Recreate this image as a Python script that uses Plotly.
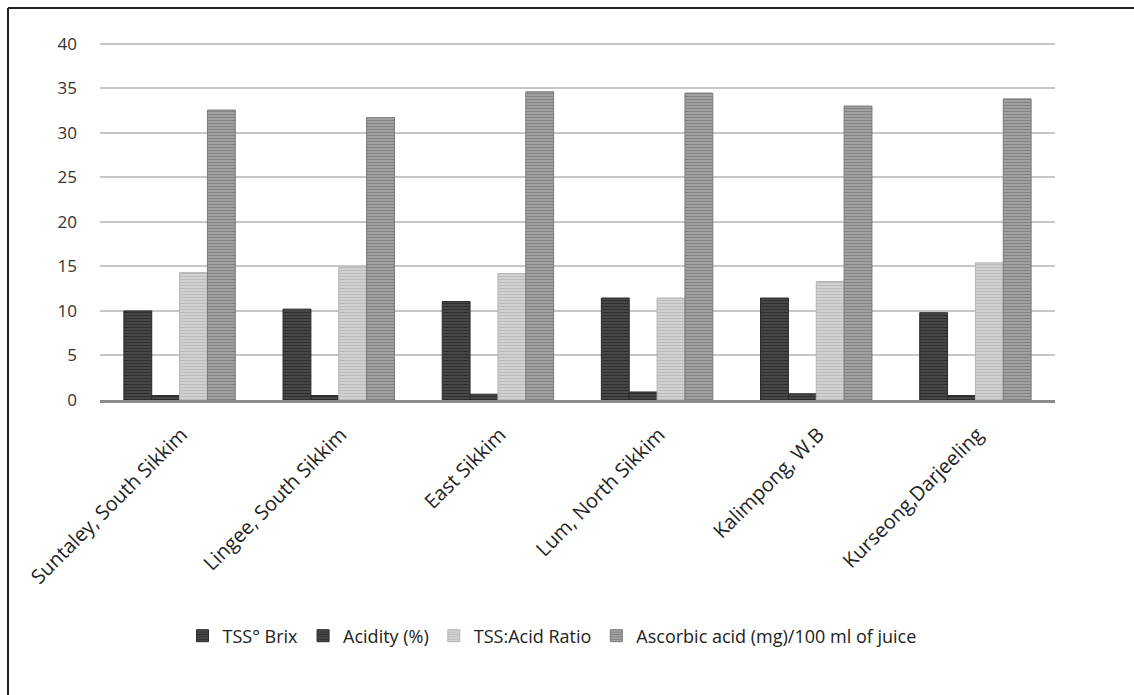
import plotly.graph_objects as go

# Sampling locations
locations = [
    "Suntaley, South Sikkim",
    "Lingee, South Sikkim",
    "East Sikkim",
    "Lum, North Sikkim",
    "Kalimpong, W.B",
    "Kurseong,Darjeeling",
]

# Juice quality parameters per location
tss_brix = [10.0, 10.2, 11.05, 11.45, 11.45, 9.8]
acidity_pct = [0.5, 0.5, 0.65, 0.9, 0.7, 0.5]
tss_acid_ratio = [14.3, 14.9, 14.2, 11.45, 13.3, 15.4]
ascorbic_acid = [32.55, 31.7, 34.6, 34.45, 33.0, 33.8]

y_ticks = [0, 5, 10, 15, 20, 25, 30, 35, 40]

series = [
    ("TSS° Brix", tss_brix, "#4a4a4a", "#141414", "#2a2a2a"),
    ("Acidity (%)", acidity_pct, "#4a4a4a", "#141414", "#2a2a2a"),
    ("TSS:Acid Ratio", tss_acid_ratio, "#d4d4d4", "#a2a2a2", "#b4b4b4"),
    ("Ascorbic acid (mg)/100 ml of juice", ascorbic_acid, "#a4a4a4", "#626262", "#7a7a7a"),
]

fig = go.Figure()
for name, vals, bg, fg, edge in series:
    fig.add_trace(go.Bar(
        x=locations,
        y=vals,
        name=name,
        marker=dict(
            color=bg,
            line=dict(color=edge, width=1),
            pattern=dict(shape="-", bgcolor=bg, fgcolor=fg, size=3, solidity=0.4,
                         fillmode="overlay"),
        ),
    ))

W, H = 1134, 695
ml, mr, mt, mb = 100, 79, 41, 295
pw, ph = W - ml - mr, H - mt - mb


def px_x(p):
    return (p - ml) / pw


def px_y(p):
    return (H - mb - p) / ph


fig.update_layout(
    width=W,
    height=H,
    margin=dict(l=ml, r=mr, t=mt, b=mb, pad=0),
    paper_bgcolor="white",
    plot_bgcolor="white",
    barmode="group",
    bargap=0.3,
    bargroupgap=0,
    font=dict(family="Open Sans, Liberation Sans, sans-serif", color="#333333"),
    showlegend=True,
    legend=dict(
        orientation="h",
        x=px_x(552),
        xanchor="center",
        y=px_y(636),
        yanchor="middle",
        bgcolor="rgba(0,0,0,0)",
        font=dict(size=18, color="#222222"),
        itemwidth=30,
        traceorder="normal",
    ),
    xaxis=dict(
        tickangle=-45,
        tickfont=dict(size=20, color="#222222"),
        showline=True,
        linecolor="#8a8a8a",
        linewidth=3,
        ticks="",
        showgrid=False,
        ticklabelshift=2,
        ticklabelstandoff=12,
    ),
    yaxis=dict(
        range=[0, 40.3],
        tickvals=y_ticks,
        tickfont=dict(size=17, color="#333333"),
        showgrid=True,
        gridcolor="#c6c6c6",
        gridwidth=1.5,
        zeroline=False,
        showline=False,
        ticks="",
        ticklabelstandoff=22,
    ),
    shapes=[
        dict(type="line", xref="paper", yref="paper",
             x0=px_x(8), x1=px_x(8), y0=px_y(8), y1=px_y(720),
             line=dict(color="#222222", width=2)),
        dict(type="line", xref="paper", yref="paper",
             x0=px_x(8), x1=px_x(1150), y0=px_y(8), y1=px_y(8),
             line=dict(color="#222222", width=2)),
    ],
)

fig.write_html("out.html")
